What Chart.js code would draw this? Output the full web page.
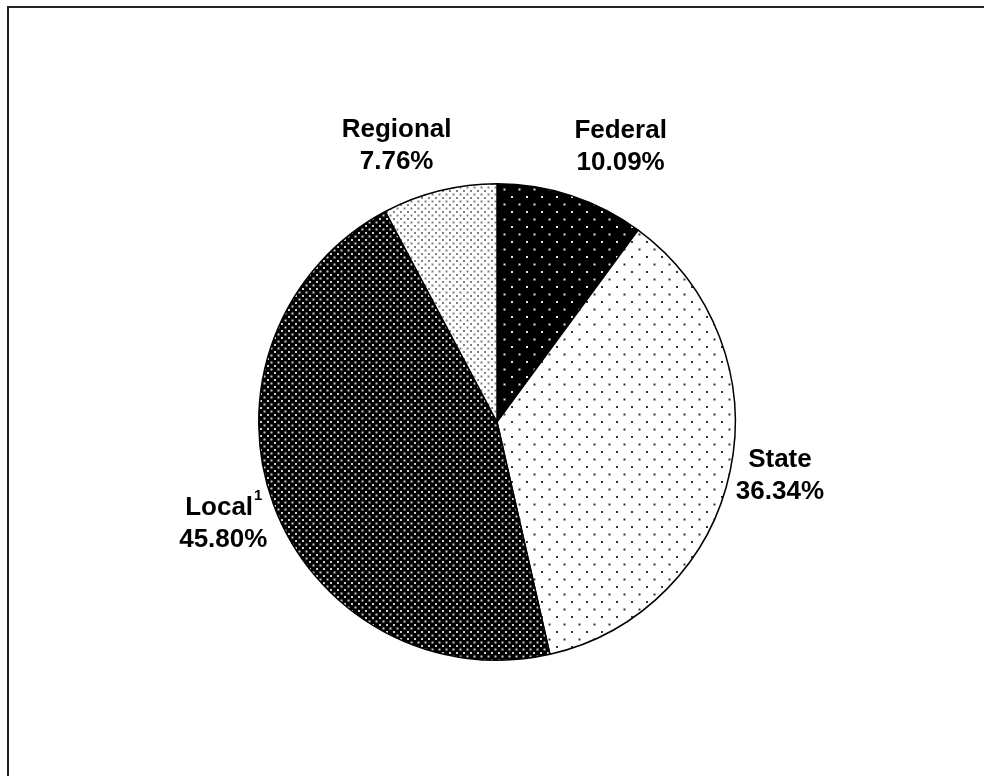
<!DOCTYPE html>
<html>
<head>
<meta charset="utf-8">
<script src="https://cdn.jsdelivr.net/npm/chart.js@4.4.0/dist/chart.umd.min.js"></script>
<style>
  html, body { margin: 0; padding: 0; background: #fff; }
  #wrap { width: 984px; height: 776px; position: relative; }
</style>
</head>
<body>
<div id="wrap"><canvas id="myChart"></canvas></div>
<script>
// slice data, clockwise from 12 o'clock
const categories = ['Federal', 'State', 'Local', 'Regional'];
const shares = [10.09, 36.34, 45.80, 7.76];
const valueLabels = ['10.09%', '36.34%', '45.80%', '7.76%'];
const footnotes = ['', '', '1', ''];

// dotted fills, like the old print shading
function dots(size, bg, fg, dot) {
    const c = document.createElement('canvas');
    c.width = size; c.height = size;
    const g = c.getContext('2d');
    g.fillStyle = bg;
    g.fillRect(0, 0, size, size);
    g.fillStyle = fg;
    const h = size / 2;
    g.fillRect(1, 1, dot, dot);
    g.fillRect(1 + h, 1 + h, dot, dot);
    return g.createPattern(c, 'repeat');
}

const ctx0 = document.getElementById('myChart').getContext('2d');
const fills = [
    dots(15, '#000', '#e6e6e6', 2),
    dots(15, '#fff', '#333', 2),
    dots(7, '#000', '#d0d0d0', 2),
    dots(7, '#fff', '#808080', 2)
];

// label placement tweaks (degrees, px from centre)
const labelShift = [6, -1, 0, -6];
const labelDist = [302, 288, 292, 294];
const FONT = '"Liberation Sans", Arial, sans-serif';

const labelPlugin = {
    id: 'sliceLabels',
    afterDatasetsDraw(chart) {
        const ctx = chart.ctx;
        const arcs = chart.getDatasetMeta(0).data;
        ctx.save();
        ctx.fillStyle = '#000';
        ctx.textAlign = 'center';
        ctx.textBaseline = 'middle';
        arcs.forEach((arc, i) => {
            const p = arc.getProps(['x', 'y', 'startAngle', 'endAngle'], true);
            const mid = (p.startAngle + p.endAngle) / 2 + labelShift[i] * Math.PI / 180;
            const x = p.x + Math.cos(mid) * labelDist[i];
            const y = p.y + Math.sin(mid) * labelDist[i];
            ctx.font = 'bold 26px ' + FONT;
            if (footnotes[i]) {
                const w = ctx.measureText(categories[i]).width;
                ctx.font = 'bold 15px ' + FONT;
                const fw = ctx.measureText(footnotes[i]).width;
                ctx.font = 'bold 26px ' + FONT;
                ctx.fillText(categories[i], x - fw / 2, y - 16);
                ctx.font = 'bold 15px ' + FONT;
                ctx.fillText(footnotes[i], x + w / 2 + 1, y - 28);
            } else {
                ctx.fillText(categories[i], x, y - 16);
            }
            ctx.font = 'bold 26px ' + FONT;
            ctx.fillText(valueLabels[i], x, y + 16);
        });
        ctx.restore();
    }
};

// only the top and left edges of the outer frame show
const framePlugin = {
    id: 'frame',
    beforeDraw(chart) {
        const ctx = chart.ctx;
        ctx.save();
        ctx.fillStyle = '#fff';
        ctx.fillRect(0, 0, chart.width, chart.height);
        ctx.strokeStyle = '#222';
        ctx.lineWidth = 2;
        ctx.beginPath();
        ctx.moveTo(8, chart.height);
        ctx.lineTo(8, 7);
        ctx.lineTo(chart.width, 7);
        ctx.stroke();
        ctx.restore();
    }
};

const config = {
    type: 'pie',
    data: {
        labels: categories,
        datasets: [{
            data: shares,
            backgroundColor: fills,
            borderColor: '#000',
            borderWidth: 1.5
        }]
    },
    options: {
        responsive: true,
        maintainAspectRatio: false,
        animation: false,
        layout: {
            padding: { left: 258, right: 248, top: 183, bottom: 115 }
        },
        plugins: {
            legend: { display: false },
            tooltip: { enabled: false }
        }
    },
    plugins: [framePlugin, labelPlugin]
};

var myChart = new Chart(ctx0, config);
</script>
</body>
</html>
